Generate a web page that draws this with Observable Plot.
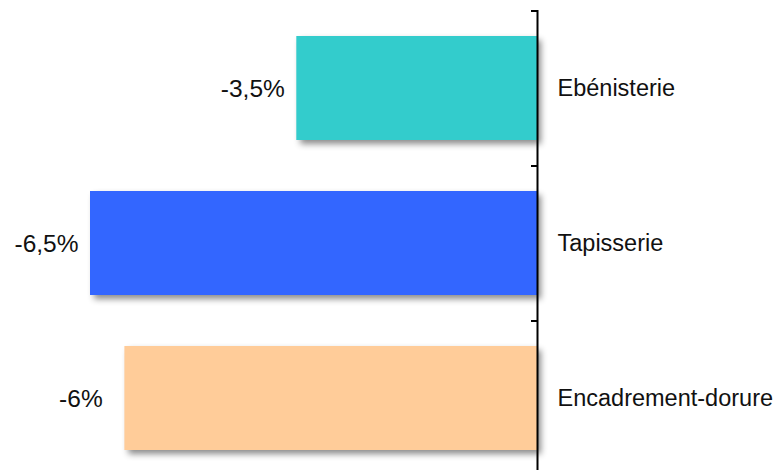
<!DOCTYPE html>
<html>
<head>
<meta charset="utf-8">
<script src="https://cdn.jsdelivr.net/npm/d3@7"></script>
<script src="https://cdn.jsdelivr.net/npm/@observablehq/plot@0.6"></script>
<style>
  html, body { margin: 0; padding: 0; background: #fff; }
  svg { font-family: "Liberation Sans", Arial, sans-serif; }
</style>
</head>
<body>
<div id="chart"></div>
<script>
const categories = ["Ebénisterie", "Tapisserie", "Encadrement-dorure"];
const values = [-3.5, -6.5, -6];
const valueLabels = ["-3,5%", "-6,5%", "-6%"];
const colors = ["#33CCCC", "#3366FF", "#FFCC99"];

const data = categories.map((c, i) => ({category: c, value: values[i], label: valueLabels[i], color: colors[i]}));

const chart = Plot.plot({
  width: 775,
  height: 470,
  marginLeft: 537,
  marginRight: 0,
  marginTop: 10,
  marginBottom: 0,
  style: {background: "#fff", overflow: "visible"},
  x: {domain: [-6.5, 0], range: [90, 537], axis: null},
  y: {domain: categories, range: [10, 475], paddingInner: 0.33, paddingOuter: 0.165, axis: null, label: null},
  marks: [
    Plot.barX(data, {x1: 0, x2: "value", y: "category", fill: "color"}),
    Plot.ruleX([0], {stroke: "#000", strokeWidth: 2}),
    Plot.axisY({anchor: "left", tickSize: 6, tickFormat: () => "", label: null, dy: -77.5, stroke: "#000", strokeWidth: 2}),
    Plot.text(data, {x: "value", y: "category", text: "label", textAnchor: "middle", dx: -44, dy: 1, fontSize: 24.5, fill: "#111"}),
    Plot.text(data, {x: 0, y: "category", text: "category", textAnchor: "start", dx: 20, fontSize: 23.5, fill: "#111"})
  ]
});

d3.select(chart).selectAll('g[aria-label="bar"] rect')
  .style("filter", "drop-shadow(4px 4px 3px rgba(0,0,0,0.45))");

document.getElementById("chart").appendChild(chart);
</script>
</body>
</html>
